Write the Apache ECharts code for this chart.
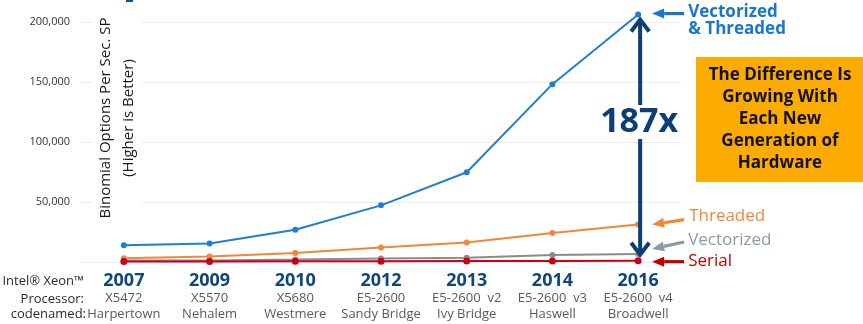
<!DOCTYPE html>
<html>
<head>
<meta charset="utf-8">
<script src="https://cdn.jsdelivr.net/npm/echarts@6/dist/echarts.min.js"></script>
<style>
  html, body { margin: 0; padding: 0; background: #fff; }
  #chart { width: 863px; height: 324px; }
</style>
</head>
<body>
<div id="chart"></div>
<script>
// Generations of Xeon processors
const years = ['2007', '2009', '2010', '2012', '2013', '2014', '2016'];
const processors = ['X5472', 'X5570', 'X5680', 'E5-2600', 'E5-2600  v2', 'E5-2600  v3', 'E5-2600  v4'];
const codenames = ['Harpertown', 'Nehalem', 'Westmere', 'Sandy Bridge', 'Ivy Bridge', 'Haswell', 'Broadwell'];

// Binomial options per second, single precision
const vecThreaded = [13900, 15500, 26900, 47200, 74800, 148200, 206200];
const threaded = [3100, 4500, 7500, 12000, 16200, 24200, 31200];
const vectorized = [1200, 1300, 2000, 3000, 3600, 5900, 6700];
const serial = [350, 450, 550, 700, 800, 900, 1100];

const yTicks = [0, 50000, 100000, 150000, 200000];

const FONT = '"Open Sans", "Noto Sans", sans-serif';
const NAVY = '#0d3f74';

const chart = echarts.init(document.getElementById('chart'), null, { renderer: 'canvas' });

function lineSeries(name, data, color, size) {
  return {
    name, type: 'line', data,
    clip: false,
    symbol: 'circle', symbolSize: size,
    lineStyle: { color, width: 2 },
    itemStyle: { color },
    emphasis: { disabled: true },
    z: 3
  };
}

chart.setOption({
  animation: false,
  grid: { left: 81, right: 182, top: 22, bottom: 62 },
  xAxis: {
    type: 'category',
    data: years,
    boundaryGap: true,
    axisLine: { show: false },
    axisTick: { show: false },
    axisLabel: {
      margin: 10,
      interval: 0,
      formatter: (v, i) => '{y|' + v + '}\n{p|' + processors[i] + '}\n{c|' + codenames[i] + '}',
      rich: {
        y: { fontFamily: FONT, fontWeight: 'bold', fontSize: 18, color: '#0e477e', lineHeight: 18 },
        p: { fontFamily: FONT, fontSize: 13, color: '#5a5a5a', lineHeight: 17 },
        c: { fontFamily: FONT, fontSize: 13, color: '#5a5a5a', lineHeight: 15 }
      }
    }
  },
  yAxis: {
    type: 'value',
    min: yTicks[0],
    max: yTicks[yTicks.length - 1],
    interval: yTicks[1] - yTicks[0],
    axisLine: { show: false },
    axisTick: { show: false },
    splitLine: { lineStyle: { color: '#ececec', width: 1 } },
    axisLabel: {
      showMinLabel: false,
      margin: 11,
      fontFamily: FONT, fontSize: 11, color: '#333',
      formatter: v => v.toLocaleString('en-US')
    }
  },
  series: [
    lineSeries('Vectorized & Threaded', vecThreaded, '#1f7ed2', 6),
    lineSeries('Threaded', threaded, '#f0883a', 6),
    lineSeries('Vectorized', vectorized, '#8c8c8c', 6),
    lineSeries('Serial', serial, '#c8001e', 7)
  ]
});

// Annotation arrows and callouts anchored on the 2016 points
const last = years.length - 1;
const px = (arr) => chart.convertToPixel({ gridIndex: 0 }, [last, arr[last]]);
const pVT = px(vecThreaded), pT = px(threaded), pV = px(vectorized), pS = px(serial);

function pointer(tipX, tipY, tailX, tailY, color) {
  const ang = Math.atan2(tailY - tipY, tailX - tipX);
  const head = 12, half = 5;
  const bx = tipX + Math.cos(ang) * head, by = tipY + Math.sin(ang) * head;
  const nx = -Math.sin(ang) * half, ny = Math.cos(ang) * half;
  return [
    { type: 'line', shape: { x1: bx, y1: by, x2: tailX, y2: tailY },
      style: { stroke: color, lineWidth: 3.2 }, z: 10 },
    { type: 'polygon', shape: { points: [[tipX, tipY], [bx + nx, by + ny], [bx - nx, by - ny]] },
      style: { fill: color }, z: 10 }
  ];
}

function label(text, x, y, color, weight) {
  return { type: 'text', x, y, z: 10,
    style: { text, font: (weight || 'normal') + ' 17px ' + FONT, fill: color,
      align: 'left', verticalAlign: 'middle' } };
}

const ax = pVT[0] + 2;          // shaft of the big arrow
const topY = pVT[1] + 3;
const botY = pS[1] - 4;
const tipL = pVT[0] + 14, tailL = pVT[0] + 46, textL = pVT[0] + 50;

const graphic = [
  // sliver of a heading above the plot
  { type: 'rect', shape: { x: 126, y: 0, width: 7, height: 2 }, style: { fill: '#0b4e8f' } },

  // y-axis title on a white band
  { type: 'text', x: 117, y: 118, rotation: Math.PI / 2, z: 5,
    style: { text: 'Binomial Options Per Sec. SP\n(Higher is Better)',
      font: '15px ' + FONT, fill: '#1a1a1a', align: 'center', verticalAlign: 'middle',
      lineHeight: 23, backgroundColor: '#fff', padding: [2, 4, 2, 4] } },

  // row captions left of the x labels
  { type: 'text', x: 84, y: 281, style: { text: 'Intel® Xeon™', font: '13px ' + FONT, fill: '#2a2a2a', align: 'right', verticalAlign: 'middle' } },
  { type: 'text', x: 84, y: 299, style: { text: 'Processor:', font: '13px ' + FONT, fill: '#2a2a2a', align: 'right', verticalAlign: 'middle' } },
  { type: 'text', x: 86, y: 314, style: { text: 'codenamed:', font: '13px ' + FONT, fill: '#2a2a2a', align: 'right', verticalAlign: 'middle' } },

  // 187x double arrow
  { type: 'line', shape: { x1: ax, y1: topY + 2, x2: ax, y2: botY - 2 },
    style: { stroke: NAVY, lineWidth: 4 }, z: 8 },
  { type: 'polyline', shape: { points: [[ax - 9, topY + 14], [ax, topY + 2], [ax + 9, topY + 14]] },
    style: { stroke: NAVY, lineWidth: 4, fill: null, lineJoin: 'miter' }, z: 8 },
  { type: 'polyline', shape: { points: [[ax - 9, botY - 14], [ax, botY - 2], [ax + 9, botY - 14]] },
    style: { stroke: NAVY, lineWidth: 4, fill: null, lineJoin: 'miter' }, z: 8 },
  { type: 'text', x: ax - 1, y: 122, z: 9,
    style: { text: '187x', font: 'bold 34px ' + FONT, fill: NAVY, align: 'center', verticalAlign: 'middle',
      backgroundColor: '#fff', padding: [0, 2, 0, 2] } },

  // callout box
  { type: 'rect', shape: { x: 696, y: 57, width: 167, height: 125 }, style: { fill: '#fdab00' }, z: 6 },
  { type: 'text', x: 780, y: 119.5, z: 7,
    style: { text: 'The Difference Is\nGrowing With\nEach New\nGeneration of\nHardware',
      font: 'bold 17px ' + FONT, fill: '#111', align: 'center', verticalAlign: 'middle', lineHeight: 22 } },

  // series callouts
  ...pointer(tipL, pVT[1] - 1, tailL, pVT[1] - 1, '#1a75cf'),
  label('Vectorized', textL, 12, '#1a75cf', 'bold'),
  label('& Threaded', textL, 29, '#1a75cf', 'bold'),

  ...pointer(tipL, pT[1], tailL, pT[1] - 5, '#f0883a'),
  label('Threaded', textL + 1, 216, '#f0883a'),

  ...pointer(tipL, 249, tailL, 242, '#8a9aa6'),
  label('Vectorized', textL, 240, '#8a9aa6'),

  ...pointer(tipL, pS[1] + 1, tailL, pS[1] + 1, '#c00000'),
  label('Serial', textL, 261, '#c00000')
];

chart.setOption({ graphic });
</script>
</body>
</html>
